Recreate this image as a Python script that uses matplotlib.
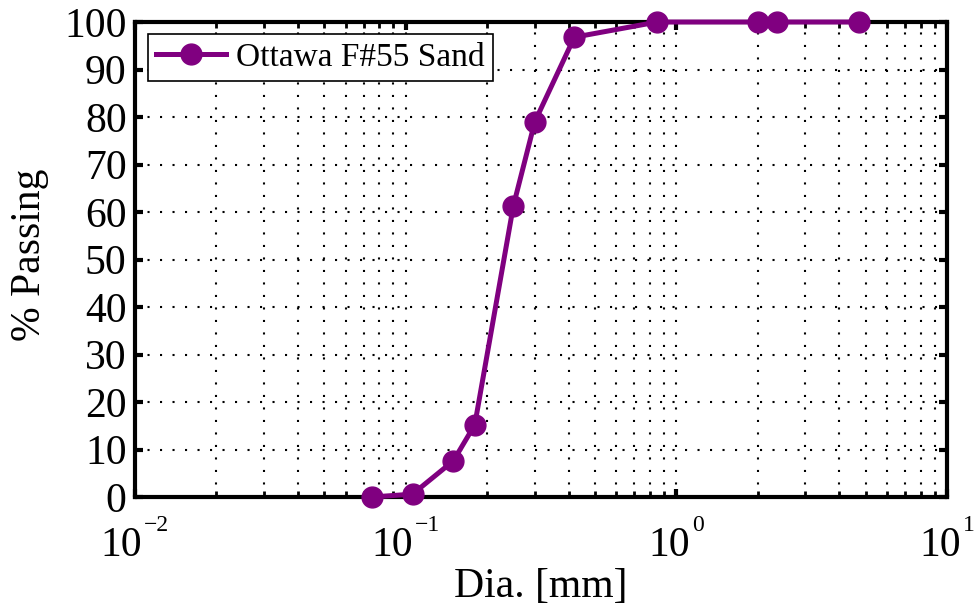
import numpy as np
import matplotlib
matplotlib.use("Agg")
import matplotlib.pyplot as plt
from matplotlib.ticker import LogLocator, NullFormatter

plt.rcParams['font.family'] = ['Liberation Serif', 'DejaVu Serif']

# grain size distribution
dia_mm = [0.075, 0.106, 0.150, 0.180, 0.250, 0.300, 0.420, 0.850, 2.00, 2.36, 4.75]
passing = [0.0, 0.6, 7.6, 15.2, 61.3, 79.0, 96.8, 100.0, 100.0, 100.0, 100.0]
label = "Ottawa F#55 Sand"
x_exponents = [-2, -1, 0, 1]
col = '#800080'

fig = plt.figure(figsize=(9.75, 6.09), dpi=100)
ax = fig.add_axes([135/975, 1 - 497/609, 812/975, 475/609])

ax.plot(dia_mm, passing, '-o', color=col, lw=3.6, ms=15, label=label,
        clip_on=False, zorder=5)

ax.set_xscale('log')
ax.set_xlim(1e-2, 1e1)
ax.set_ylim(0, 100)
ax.set_yticks(np.arange(0, 101, 10))
ax.xaxis.set_major_locator(LogLocator(base=10, numticks=10))
ax.xaxis.set_minor_locator(LogLocator(base=10, subs=np.arange(2, 10), numticks=10))
ax.xaxis.set_major_formatter(NullFormatter())
ax.xaxis.set_minor_formatter(NullFormatter())

# dotted grid, major and minor on x
gstyle = dict(color='black', linestyle=(0, (1, 5)), lw=1.5)
ax.grid(True, which='major', axis='both', **gstyle)
ax.grid(True, which='minor', axis='x', **gstyle)

for s in ax.spines.values():
    s.set_linewidth(3)
ax.tick_params(which='major', direction='in', length=6, width=3, labelsize=30,
               top=True, right=True, pad=6)
ax.tick_params(which='minor', direction='in', length=4, width=2, top=True)

# matlab-style "10^k" labels: smaller raised exponent
pairs = []
for k in x_exponents:
    t10 = ax.annotate('10', xy=(10.0**k, 0), xycoords=('data', 'axes fraction'),
                      xytext=(0, -59), textcoords='offset pixels', ha='left',
                      va='baseline', fontsize=30, annotation_clip=False)
    te = ax.annotate(str(k).replace('-', '\u2212'), xy=(10.0**k, 0),
                     xycoords=('data', 'axes fraction'), xytext=(0, -34),
                     textcoords='offset pixels', ha='left', va='baseline',
                     fontsize=17, annotation_clip=False)
    pairs.append((t10, te))
fig.canvas.draw()
r = fig.canvas.get_renderer()
for t10, te in pairs:
    w10 = t10.get_window_extent(r).width
    we = te.get_window_extent(r).width
    total = w10 + 2 + we
    t10.set_position((-total / 2, -59))
    te.set_position((-total / 2 + w10 + 2, -34))

ax.set_xlabel('Dia. [mm]', fontsize=30)
ax.xaxis.label.set_va('baseline')
ax.xaxis.set_label_coords(0.5, (497 - 597) / 475)
ax.set_ylabel('% Passing', fontsize=30)
ax.yaxis.set_label_coords((49 - 135) / 812, 0.51)

leg = ax.legend(loc='upper left', bbox_to_anchor=(0.016, 0.975), borderaxespad=0,
                fontsize=24, fancybox=False, framealpha=1, edgecolor='black',
                handlelength=2.1, handletextpad=0.3, borderpad=0.25)
leg.get_frame().set_linewidth(1.2)

fig.savefig('out.png', dpi=100)
